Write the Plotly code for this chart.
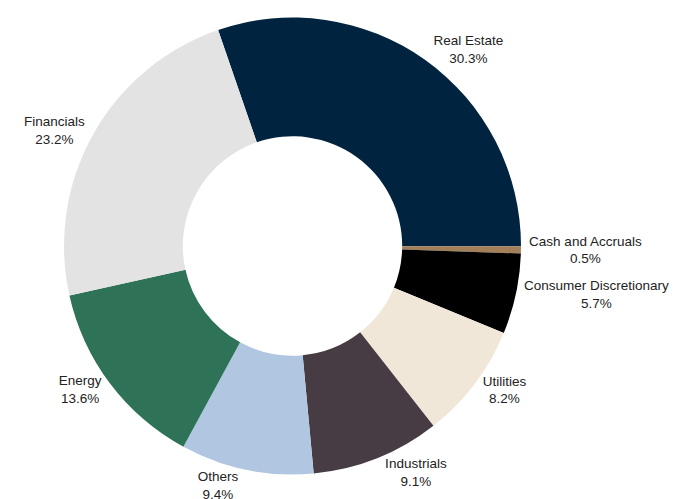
import plotly.graph_objects as go

sectors = ["Real Estate", "Cash and Accruals", "Consumer Discretionary", "Utilities",
           "Industrials", "Others", "Energy", "Financials"]
weights = [30.3, 0.5, 5.7, 8.2, 9.1, 9.4, 13.6, 23.2]
colors = ["#00243f", "#a3805a", "#000000", "#f1e7d9", "#473c43", "#b1c6e0", "#2e7258", "#e3e3e3"]

fig = go.Figure(go.Pie(
    labels=sectors, values=weights, hole=0.48, sort=False, direction="clockwise",
    rotation=-19, marker=dict(colors=colors),
    textposition="outside", texttemplate="%{label}<br>%{value:.1f}%",
    textfont=dict(family="Liberation Sans, Arial", size=13.5, color="#222"),
    showlegend=False,
))
fig.update_layout(
    width=677, height=499, paper_bgcolor="white",
    margin=dict(l=34, r=145, t=9, b=18),
)
fig.write_html("out.html")
